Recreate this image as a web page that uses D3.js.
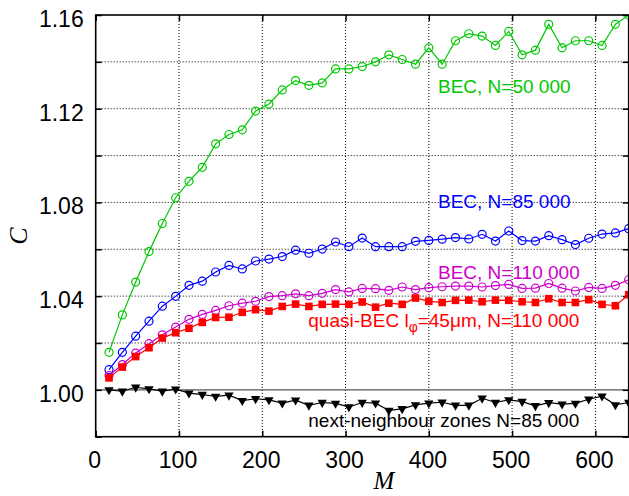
<!DOCTYPE html>
<html><head><meta charset="utf-8">
<script src="https://cdn.jsdelivr.net/npm/d3@7"></script>
<style>body{margin:0;background:#fff}svg{display:block}</style>
</head><body>
<svg id="c" width="629" height="496"></svg>
<script>
const M = [16,32,48,64,80,96,112,128,144,160,176,192,208,224,240,256,272,288,304,320,336,352,368,384,400,416,432,448,464,480,496,512,528,544,560,576,592,608,624,640];
const bec50 = [1.016,1.032,1.046,1.059,1.071,1.082,1.089,1.095,1.105,1.109,1.111,1.119,1.122,1.128,1.132,1.130,1.131,1.137,1.137,1.138,1.140,1.143,1.141,1.139,1.146,1.139,1.149,1.152,1.151,1.147,1.153,1.143,1.145,1.156,1.146,1.149,1.149,1.147,1.156,1.160];
const bec85 = [1.0086,1.016,1.0229,1.0293,1.0357,1.0399,1.0446,1.0464,1.0503,1.0531,1.0516,1.055,1.0558,1.0569,1.0596,1.0583,1.0601,1.0631,1.0611,1.0648,1.0611,1.0611,1.0611,1.0634,1.0638,1.0643,1.065,1.0644,1.0664,1.0635,1.0678,1.0637,1.0635,1.0658,1.0641,1.062,1.0647,1.0665,1.067,1.0688];
const bec110 = [1.0061,1.0108,1.0157,1.0197,1.0235,1.0268,1.0301,1.0322,1.0339,1.0359,1.037,1.0378,1.0398,1.0402,1.041,1.0402,1.0412,1.0428,1.0418,1.0433,1.0432,1.0425,1.0439,1.0428,1.0436,1.044,1.0443,1.0443,1.0439,1.0445,1.045,1.0433,1.0434,1.0454,1.0434,1.0422,1.0437,1.0433,1.0446,1.047];
const quasi110 = [1.0051,1.0097,1.0142,1.018,1.0221,1.0244,1.0263,1.0288,1.0309,1.031,1.0331,1.0342,1.0336,1.0356,1.0366,1.0356,1.0365,1.0366,1.0365,1.0375,1.0353,1.037,1.0365,1.0392,1.0378,1.0373,1.0382,1.0383,1.0376,1.0383,1.0382,1.0376,1.0373,1.0389,1.0373,1.0373,1.0385,1.0365,1.0359,1.0406];
const nn85 = [1.0000,0.9994,1.0011,1.0004,0.9994,1.0003,0.9986,0.998,0.9972,0.9977,0.9954,0.9962,0.9957,0.9943,0.9956,0.9934,0.9946,0.9942,0.9927,0.9946,0.9943,0.9912,0.9919,0.9936,0.9943,0.9947,0.9934,0.9934,0.9964,0.9946,0.9957,0.995,0.9932,0.9945,0.9939,0.9942,0.996,0.9973,0.9936,0.9946];
const xTicks = [0,100,200,300,400,500,600];
const yTicks = [0.98,1.00,1.02,1.04,1.06,1.08,1.10,1.12,1.14,1.16];
const yLabels = [1.00,1.04,1.08,1.12,1.16];

const svg = d3.select("#c");
const L = 95.7, R = 628.7, T = 15, B = 436.7;
const x = d3.scaleLinear().domain([0,640]).range([L,R]);
const y = d3.scaleLinear().domain([0.98,1.16]).range([B,T]);

svg.append("defs").append("clipPath").attr("id","clip")
  .append("rect").attr("x",L).attr("y",T-1).attr("width",R-L+2).attr("height",B-T+1);

// grid
const grid = svg.append("g").attr("stroke","#000").attr("stroke-width",1).attr("stroke-dasharray","1,2");
xTicks.filter(t=>t>0).forEach(t=>grid.append("line").attr("x1",x(t)).attr("x2",x(t)).attr("y1",T).attr("y2",B));
yTicks.filter(t=>t>0.985 && t<1.155 && Math.abs(t-1)>1e-6).forEach(t=>grid.append("line").attr("x1",L).attr("x2",R).attr("y1",y(t)).attr("y2",y(t)));
// y=1 solid line
svg.append("line").attr("x1",L).attr("x2",R).attr("y1",y(1)).attr("y2",y(1)).attr("stroke","#555").attr("stroke-width",1.2);

// axes via d3 (ticks inward)
const axB = d3.axisBottom(x).tickValues(xTicks).tickSize(-6).tickPadding(14).tickFormat(d3.format("d"));
const axT = d3.axisTop(x).tickValues(xTicks).tickSize(-6).tickFormat("");
const axLf = d3.axisLeft(y).tickValues(yTicks).tickSize(-6).tickPadding(12).tickFormat(d=>yLabels.some(v=>Math.abs(v-d)<1e-6)?d3.format(".2f")(d):"");
const axRt = d3.axisRight(y).tickValues(yTicks).tickSize(-6).tickFormat("");
function style(g){g.select(".domain").remove();g.selectAll(".tick line").attr("stroke","#000").attr("stroke-width",1.5);
  g.selectAll(".tick text").attr("font-family","'Liberation Sans',Arial,sans-serif").attr("font-size",23).attr("fill","#000");}
svg.append("g").attr("transform",`translate(0,${B})`).call(axB).call(style).selectAll(".tick text").attr("dx",-1.5).attr("dy","0.75em");
svg.append("g").attr("transform",`translate(0,${T})`).call(axT).call(style);
svg.append("g").attr("transform",`translate(${L},0)`).call(axLf).call(style).selectAll(".tick text").attr("dy","0.5em").attr("x",-12);
svg.append("g").attr("transform",`translate(${R},0)`).call(axRt).call(style);

const plot = svg.append("g").attr("clip-path","url(#clip)");
const line = d3.line().x((d,i)=>x(M[i])).y(d=>y(d));
function circles(data,color){
  plot.append("path").attr("d",line(data)).attr("fill","none").attr("stroke",color).attr("stroke-width",1.2);
  plot.selectAll(null).data(data).enter().append("circle").attr("cx",(d,i)=>x(M[i])).attr("cy",d=>y(d)).attr("r",4)
    .attr("fill","none").attr("stroke",color).attr("stroke-width",1.2);
}
circles(bec50,"#00c800");
circles(bec85,"#0000ff");
circles(bec110,"#cc00cc");
// red squares
plot.append("path").attr("d",line(quasi110)).attr("fill","none").attr("stroke","#ff0000").attr("stroke-width",1.2);
plot.selectAll(null).data(quasi110).enter().append("rect").attr("x",(d,i)=>x(M[i])-3.8).attr("y",d=>y(d)-3.8)
  .attr("width",7.6).attr("height",7.6).attr("fill","#ff0000");
// black triangles
plot.append("path").attr("d",line(nn85)).attr("fill","none").attr("stroke","#000").attr("stroke-width",1.2);
const tri = d3.symbol().type(d3.symbolTriangle).size(38);
plot.selectAll(null).data(nn85).enter().append("path").attr("d",tri)
  .attr("transform",(d,i)=>`translate(${x(M[i])},${y(d)}) rotate(180)`).attr("fill","#000");

// frame
svg.append("rect").attr("x",L).attr("y",T).attr("width",R-L).attr("height",B-T).attr("fill","none").attr("stroke","#000").attr("stroke-width",1.6);

// labels
const F = "'Liberation Sans',Arial,sans-serif";
function lab(txt,xx,yy,c){return svg.append("text").attr("x",xx).attr("y",yy).attr("font-family",F).attr("font-size",19).attr("fill",c).text(txt);}
lab("BEC, N=50 000",438,92.5,"#00c800");
lab("BEC, N=85 000",438,208.3,"#0000ff");
lab("BEC, N=110 000",438,279.3,"#cc00cc");
const q = svg.append("text").attr("x",308.3).attr("y",326.7).attr("font-family",F).attr("font-size",19).attr("fill","#ff0000");
q.append("tspan").text("quasi-BEC l");
q.append("tspan").attr("font-size",14).attr("dy",5).text("φ");
q.append("tspan").attr("dy",-5).text("=45μm, N=110 000");
lab("next-neighbour zones N=85 000",308.3,427.3,"#000");

svg.append("text").attr("transform","translate(27,236) rotate(-90)").attr("text-anchor","middle")
  .attr("font-family","'Liberation Serif','Times New Roman',serif").attr("font-style","italic").attr("font-size",26).text("C");
svg.append("text").attr("x",384).attr("y",489).attr("text-anchor","middle")
  .attr("font-family","'Liberation Serif','Times New Roman',serif").attr("font-style","italic").attr("font-size",25).text("M");
</script>
</body></html>
